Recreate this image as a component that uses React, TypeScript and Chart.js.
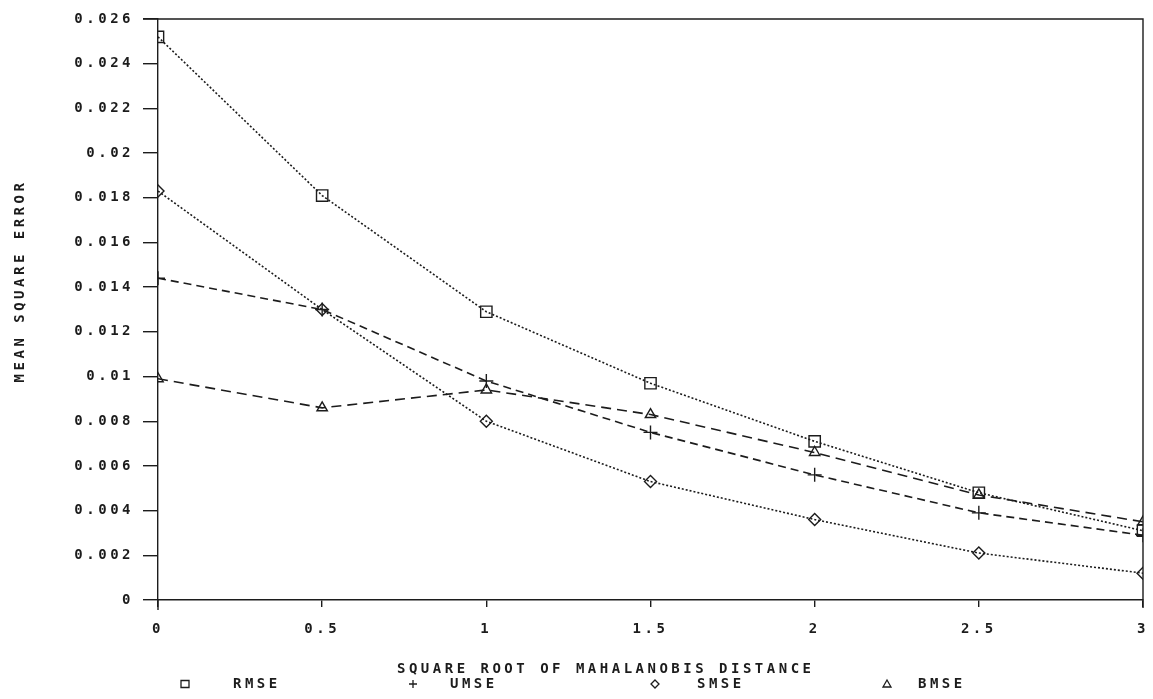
import { useEffect, useRef } from "react";
import { Chart, registerables } from "chart.js";

Chart.register(...registerables);

// Mean square error of each estimator versus the square root of the Mahalanobis distance
const distances = [0, 0.5, 1, 1.5, 2, 2.5, 3];
const rmse = [0.0252, 0.0181, 0.0129, 0.0097, 0.0071, 0.0048, 0.0031];
const umse = [0.0144, 0.013, 0.0098, 0.0075, 0.0056, 0.0039, 0.0029];
const smse = [0.0183, 0.013, 0.008, 0.0053, 0.0036, 0.0021, 0.0012];
const bmse = [0.0099, 0.0086, 0.0094, 0.0083, 0.0066, 0.0047, 0.0035];

const seriesNames = ["RMSE", "UMSE", "SMSE", "BMSE"];

const xTicks = [0, 0.5, 1, 1.5, 2, 2.5, 3];
const xTickLabels = ["0", "0.5", "1", "1.5", "2", "2.5", "3"];
const yTicks = [0, 0.002, 0.004, 0.006, 0.008, 0.01, 0.012, 0.014, 0.016, 0.018, 0.02, 0.022, 0.024, 0.026];
const yTickLabels = ["0", "0.002", "0.004", "0.006", "0.008", "0.01", "0.012", "0.014", "0.016", "0.018", "0.02", "0.022", "0.024", "0.026"];

const xTitle = "SQUARE ROOT OF MAHALANOBIS DISTANCE";
const yTitle = "MEAN SQUARE ERROR";

const INK = "#1c1c1c";
const FONT_FAMILY = "'DejaVu Sans Mono', monospace";
const FONT_SIZE = 14;
const FONT_WEIGHT = "bold";
const SPACING = "3.5px";

const toPoints = (ys: number[]) => distances.map((d, i) => ({ x: d, y: ys[i] }));

// small hollow marker used in the legend row
function drawMarker(ctx: CanvasRenderingContext2D, style: string, x: number, y: number) {
  ctx.beginPath();
  if (style === "rect") {
    ctx.rect(x - 4, y - 3.5, 8, 7);
  } else if (style === "cross") {
    ctx.moveTo(x - 4, y);
    ctx.lineTo(x + 4, y);
    ctx.moveTo(x, y - 4);
    ctx.lineTo(x, y + 4);
  } else if (style === "rectRot") {
    ctx.moveTo(x, y - 4);
    ctx.lineTo(x + 4, y);
    ctx.lineTo(x, y + 4);
    ctx.lineTo(x - 4, y);
    ctx.closePath();
  } else {
    ctx.moveTo(x, y - 4);
    ctx.lineTo(x + 4, y + 3);
    ctx.lineTo(x - 4, y + 3);
    ctx.closePath();
  }
  ctx.stroke();
}

const markerStyles = ["rect", "cross", "rectRot", "triangle"];
const legendMarkerX = [27, 255, 497, 729];
const legendTextX = [75, 292, 539, 760];

const decorPlugin = {
  id: "decor",
  beforeDraw(chart: any) {
    (chart.ctx as any).letterSpacing = SPACING;
  },
  afterDraw(chart: any) {
    const ctx: CanvasRenderingContext2D = chart.ctx;
    const a = chart.chartArea;
    ctx.save();
    (ctx as any).letterSpacing = SPACING;
    ctx.strokeStyle = INK;
    ctx.lineWidth = 1.4;
    ctx.setLineDash([]);
    // top and right frame lines
    ctx.beginPath();
    ctx.moveTo(a.left - 15, a.top);
    ctx.lineTo(a.right, a.top);
    ctx.lineTo(a.right, a.bottom + 8);
    ctx.stroke();
    // left axis runs a little past the bottom axis
    ctx.beginPath();
    ctx.moveTo(a.left, a.bottom);
    ctx.lineTo(a.left, a.bottom + 10);
    ctx.stroke();

    ctx.fillStyle = INK;
    ctx.font = `${FONT_WEIGHT} ${FONT_SIZE}px ${FONT_FAMILY}`;
    ctx.textBaseline = "middle";

    // x axis title
    ctx.textAlign = "left";
    ctx.fillText(xTitle, a.left + 239, a.bottom + 69);

    // legend row
    ctx.lineWidth = 1.3;
    seriesNames.forEach((name, i) => {
      drawMarker(ctx, markerStyles[i], a.left + legendMarkerX[i], a.bottom + 84);
      ctx.fillText(name, a.left + legendTextX[i], a.bottom + 84);
    });

    // y axis title
    ctx.translate(20, 281);
    ctx.rotate(-Math.PI / 2);
    ctx.textAlign = "center";
    ctx.fillText(yTitle, 0, 0);
    ctx.restore();
  },
};

export default function App() {
  const canvasRef = useRef<HTMLCanvasElement | null>(null);

  useEffect(() => {
    const canvas = canvasRef.current;
    if (!canvas) return;

    const lineBase = {
      borderColor: INK,
      borderWidth: 1.6,
      pointBorderColor: INK,
      pointBackgroundColor: "rgba(0,0,0,0)",
      pointBorderWidth: 1.4,
      fill: false,
      tension: 0,
    };

    const tickFont = { family: FONT_FAMILY, size: FONT_SIZE, weight: FONT_WEIGHT };

    const chart = new Chart(canvas, {
      type: "line",
      data: {
        datasets: [
          { ...lineBase, label: seriesNames[0], data: toPoints(rmse), borderDash: [2, 2], pointStyle: "rect", pointRadius: 8 },
          { ...lineBase, label: seriesNames[1], data: toPoints(umse), borderDash: [8, 5], pointStyle: "cross", pointRadius: 7 },
          { ...lineBase, label: seriesNames[2], data: toPoints(smse), borderDash: [2, 2], pointStyle: "rectRot", pointRadius: 6 },
          { ...lineBase, label: seriesNames[3], data: toPoints(bmse), borderDash: [10, 6], pointStyle: "triangle", pointRadius: 6 },
        ],
      },
      options: {
        animation: false,
        responsive: false,
        maintainAspectRatio: false,
        layout: { padding: { top: 19, right: 10, left: 0, bottom: 0 } },
        plugins: {
          legend: { display: false },
          tooltip: { enabled: false },
          title: { display: false },
        },
        scales: {
          x: {
            type: "linear",
            min: 0,
            max: 3,
            afterBuildTicks: (scale: any) => {
              scale.ticks = xTicks.map((v) => ({ value: v }));
            },
            afterFit: (scale: any) => {
              scale.height = 99;
              scale.paddingLeft = 0;
              scale.paddingRight = 0;
            },
            ticks: {
              autoSkip: false,
              maxRotation: 0,
              padding: 14,
              color: INK,
              font: tickFont,
              callback: (_v: any, i: number) => xTickLabels[i],
            },
            grid: { drawOnChartArea: false, drawTicks: true, tickLength: 7, color: INK, lineWidth: 1.4 },
            border: { display: true, color: INK, width: 1.4 },
          },
          y: {
            type: "linear",
            min: 0,
            max: 0.026,
            afterBuildTicks: (scale: any) => {
              scale.ticks = yTicks.map((v) => ({ value: v }));
            },
            afterFit: (scale: any) => {
              scale.width = 158;
              scale.paddingTop = 0;
              scale.paddingBottom = 0;
            },
            ticks: {
              autoSkip: false,
              padding: 9,
              color: INK,
              font: tickFont,
              callback: (_v: any, i: number) => yTickLabels[i],
            },
            grid: { drawOnChartArea: false, drawTicks: true, tickLength: 15, color: INK, lineWidth: 1.4 },
            border: { display: true, color: INK, width: 1.4 },
          },
        },
      },
      plugins: [decorPlugin],
    });

    return () => chart.destroy();
  }, []);

  return (
    <div style={{ position: "fixed", left: 0, top: 0, width: 1153, height: 699, background: "#fff" }}>
      <canvas ref={canvasRef} width={1153} height={699} style={{ display: "block" }} />
    </div>
  );
}
